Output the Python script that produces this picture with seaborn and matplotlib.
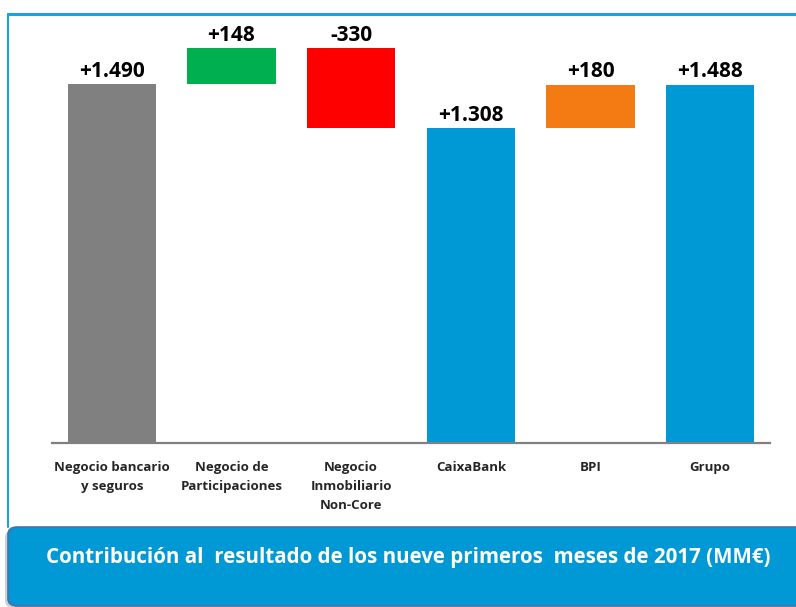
import matplotlib
matplotlib.use("Agg")
import matplotlib.pyplot as plt
from matplotlib.patches import FancyBboxPatch
from matplotlib.lines import Line2D
import seaborn as sns
import pandas as pd

categories = ["Negocio bancario\ny seguros", "Negocio de\nParticipaciones",
              "Negocio\nInmobiliario\nNon-Core", "CaixaBank", "BPI", "Grupo"]
values = [1490, 148, -330, 1308, 180, 1488]
is_total = [True, False, False, True, False, True]
value_labels = ["+1.490", "+148", "-330", "+1.308", "+180", "+1.488"]
colors = ["#808080", "#00B050", "#FF0000", "#0099D5", "#F47A14", "#0099D5"]
banner_text = "Contribución al  resultado de los nueve primeros  meses de 2017 (MM€)"

# waterfall geometry
bottoms, heights = [], []
running = 0
for v, t in zip(values, is_total):
    if t:
        bottoms.append(0)
        heights.append(v)
        running = v
    else:
        bottoms.append(min(running, running + v))
        heights.append(abs(v))
        running += v

sns.set_theme(style="white")
plt.rcParams["font.family"] = ["Open Sans", "DejaVu Sans"]

W, H = 796, 607
fig = plt.figure(figsize=(W / 100, H / 100), dpi=100)
ax = fig.add_axes([52 / W, (H - 443) / H, (770 - 52) / W, (443 - 14) / H])

df = pd.DataFrame({"cat": categories, "h": heights})
sns.barplot(data=df, x="cat", y="h", hue="cat", palette=colors, width=0.74,
            legend=False, ax=ax, saturation=1, linewidth=0)

for cont, b in zip(ax.containers, bottoms):
    for p in cont:
        p.set_y(b)

for i, (b, h, lab) in enumerate(zip(bottoms, heights, value_labels)):
    ax.text(i, b + h + 10, lab, ha="center", va="bottom", fontsize=15,
            fontweight="bold", color="black")

ax.set_ylim(0, 1781)
ax.set_xlim(-0.5, 5.5)
ax.set_xlabel("")
ax.set_ylabel("")
ax.set_yticks([])
for s in ["top", "right", "left"]:
    ax.spines[s].set_visible(False)
ax.spines["bottom"].set_color("#808080")
ax.spines["bottom"].set_linewidth(1.6)
ax.tick_params(axis="x", length=0, pad=13)
for t in ax.get_xticklabels():
    t.set_fontsize(9.5)
    t.set_fontweight("bold")
    t.set_linespacing(1.62)
    t.set_verticalalignment("top")

# frame lines
fig.add_artist(Line2D([8 / W, 1.0], [(H - 14) / H] * 2, color="#1BA1DC", lw=2.2))
fig.add_artist(Line2D([8 / W] * 2, [(H - 14) / H, (H - 527) / H], color="#1BA1DC", lw=1.5))

# banner with shadow
shadow = FancyBboxPatch((5 / W, (H - 608) / H), (W - 5) / W + 0.05, 78 / H,
                        boxstyle="round,pad=0,rounding_size=0.012",
                        transform=fig.transFigure, facecolor="#D0D0D0",
                        edgecolor="none", zorder=1)
fig.add_artist(shadow)
banner = FancyBboxPatch((8 / W, (H - 606) / H), (W - 8) / W + 0.05, 79 / H,
                        boxstyle="round,pad=0,rounding_size=0.012",
                        transform=fig.transFigure, facecolor="#0099D5",
                        edgecolor="#4A6FA5", lw=1.2, zorder=2)
fig.add_artist(banner)
fig.text(408 / W, (H - 558) / H, banner_text, ha="center", va="center",
         color="white", fontsize=14.8, fontweight="bold", zorder=3)

fig.savefig("out.png", dpi=100)
